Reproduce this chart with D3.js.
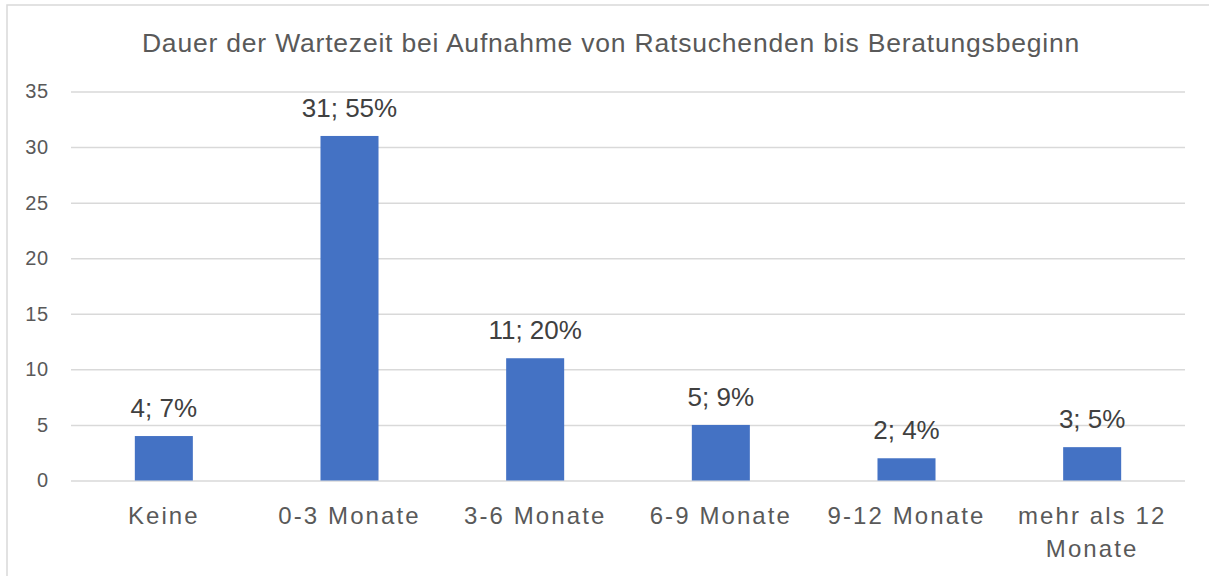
<!DOCTYPE html>
<html>
<head>
<meta charset="utf-8">
<script src="https://cdn.jsdelivr.net/npm/d3@7"></script>
<style>
  html, body { margin: 0; padding: 0; background: #fff; }
  svg { display: block; font-family: "Liberation Sans", Arial, sans-serif; }
</style>
</head>
<body>
<svg id="chart" width="1209" height="576"></svg>
<script>
// chart data
const title = "Dauer der Wartezeit bei Aufnahme von Ratsuchenden bis Beratungsbeginn";
const categories = ["Keine", "0-3 Monate", "3-6 Monate", "6-9 Monate", "9-12 Monate", "mehr als 12 Monate"];
const categoryLines = [["Keine"], ["0-3 Monate"], ["3-6 Monate"], ["6-9 Monate"], ["9-12 Monate"], ["mehr als 12", "Monate"]];
const counts = [4, 31, 11, 5, 2, 3];
const percents = ["7%", "55%", "20%", "9%", "4%", "5%"];
const yTicks = [0, 5, 10, 15, 20, 25, 30, 35];

const svg = d3.select("#chart");

// outer chart border (right/bottom edges fall outside the picture)
svg.append("rect")
  .attr("x", 7).attr("y", 5)
  .attr("width", 1240).attr("height", 620)
  .attr("fill", "none")
  .attr("stroke", "#d9d9d9")
  .attr("stroke-width", 1.5);

const x = d3.scaleBand()
  .domain(categories)
  .range([71, 1185])
  .paddingInner(0.6875)
  .paddingOuter(0.34375);

const y = d3.scaleLinear()
  .domain([0, 35])
  .range([480.5, 91.5]);

// title
svg.append("text")
  .attr("x", 611)
  .attr("y", 52)
  .attr("text-anchor", "middle")
  .attr("fill", "#595959")
  .style("font-size", "26.5px")
  .style("letter-spacing", "0.8px")
  .text(title);

// gridlines + y labels
const yAxis = d3.axisLeft(y)
  .tickValues(yTicks)
  .tickSize(-(1185 - 71))
  .tickPadding(22);

const gy = svg.append("g")
  .attr("transform", "translate(71,0)")
  .call(yAxis);

gy.select(".domain").remove();
gy.selectAll(".tick line")
  .attr("stroke", "#d9d9d9")
  .attr("stroke-width", 1.5);
gy.selectAll(".tick text")
  .attr("fill", "#595959")
  .style("font-size", "20px")
  .style("letter-spacing", "0.8px")
  .style("font-family", "'Liberation Sans', Arial, sans-serif");

// bars
svg.append("g")
  .selectAll("rect")
  .data(categories)
  .join("rect")
  .attr("x", d => x(d))
  .attr("y", (d, i) => y(counts[i]))
  .attr("width", x.bandwidth())
  .attr("height", (d, i) => y(0) - y(counts[i]))
  .attr("fill", "#4472c4");

// data labels
svg.append("g")
  .selectAll("text")
  .data(categories)
  .join("text")
  .attr("x", d => x(d) + x.bandwidth() / 2)
  .attr("y", (d, i) => y(counts[i]) - 19)
  .attr("text-anchor", "middle")
  .attr("fill", "#404040")
  .style("font-size", "26px")
  .text((d, i) => `${counts[i]}; ${percents[i]}`);

// category labels
const cat = svg.append("g")
  .selectAll("text")
  .data(categories)
  .join("text")
  .attr("x", d => x(d) + x.bandwidth() / 2)
  .attr("y", 524)
  .attr("text-anchor", "middle")
  .attr("fill", "#595959")
  .style("font-size", "24px")
  .style("letter-spacing", "2.1px");

cat.selectAll("tspan")
  .data((d, i) => categoryLines[i])
  .join("tspan")
  .attr("x", function() { return d3.select(this.parentNode).attr("x"); })
  .attr("dy", (d, i) => i === 0 ? 0 : 32.5)
  .text(d => d);
</script>
</body>
</html>
